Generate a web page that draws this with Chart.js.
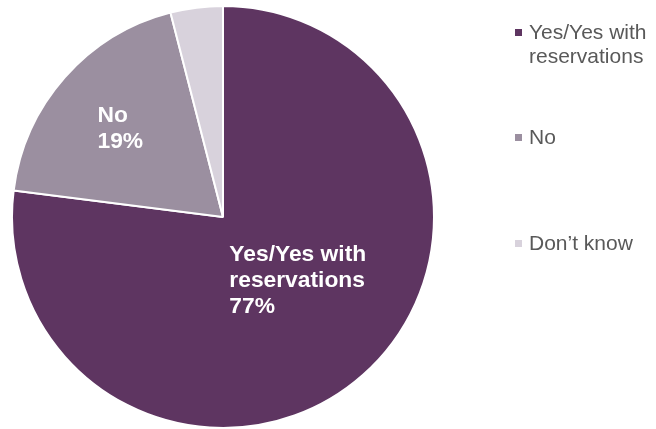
<!DOCTYPE html>
<html>
<head>
<meta charset="utf-8">
<script src="https://cdn.jsdelivr.net/npm/chart.js@4/dist/chart.umd.min.js"></script>
<style>
  html, body { margin: 0; padding: 0; background: #ffffff; }
  #wrap { width: 656px; height: 429px; position: relative; }
</style>
</head>
<body>
<div id="wrap"><canvas id="chart" width="656" height="429"></canvas></div>
<script>
// Survey responses
const categories = ['Yes/Yes with reservations', 'No', "Don\u2019t know"];
const legendLines = [['Yes/Yes with', 'reservations'], ['No'], ['Don\u2019t know']];
const shares = [77, 19, 4];
const sliceColors = ['#5e3561', '#9b8fa0', '#d8d2dc'];

const FONT = '"Liberation Sans", Arial, Helvetica, sans-serif';

// White in-slice labels (category + percentage)
const sliceLabels = [
  { lines: ['Yes/Yes with', 'reservations', shares[0] + '%'], fx: 0.03, fy: 0.135 },
  { lines: ['No', shares[1] + '%'], fx: -0.595, fy: -0.525 },
  null
];

const sliceLabelPlugin = {
  id: 'sliceLabels',
  afterDatasetsDraw(chart) {
    const ctx = chart.ctx;
    const meta = chart.getDatasetMeta(0);
    ctx.save();
    ctx.fillStyle = '#ffffff';
    ctx.font = 'bold 22.8px ' + FONT;
    ctx.textAlign = 'left';
    ctx.textBaseline = 'alphabetic';
    meta.data.forEach((arc, i) => {
      const spec = sliceLabels[i];
      if (!spec) return;
      const r = arc.outerRadius;
      const x = arc.x + spec.fx * r;
      const y = arc.y + spec.fy * r;
      spec.lines.forEach((line, k) => {
        ctx.fillText(line, x, y + 16 + k * 26);
      });
    });
    ctx.restore();
  }
};

// Legend drawn to the right of the pie
const sideLegendPlugin = {
  id: 'sideLegend',
  afterDraw(chart) {
    const ctx = chart.ctx;
    const x0 = chart.chartArea.right + 80;
    const baselines = [39, 144, 250];
    ctx.save();
    ctx.font = '21px ' + FONT;
    ctx.textAlign = 'left';
    ctx.textBaseline = 'alphabetic';
    legendLines.forEach((lines, i) => {
      const b = baselines[i];
      ctx.fillStyle = sliceColors[i];
      ctx.fillRect(x0, b - 10, 7, 7);
      ctx.fillStyle = '#595959';
      lines.forEach((line, k) => {
        ctx.fillText(line, x0 + 14, b + k * 24);
      });
    });
    ctx.restore();
  }
};

new Chart(document.getElementById('chart'), {
  type: 'pie',
  data: {
    labels: categories,
    datasets: [{
      data: shares,
      backgroundColor: sliceColors,
      borderColor: '#ffffff',
      borderWidth: 2
    }]
  },
  options: {
    responsive: false,
    animation: false,
    layout: { padding: { left: 11, top: 5, right: 221, bottom: 0 } },
    plugins: {
      legend: { display: false },
      tooltip: { enabled: false }
    }
  },
  plugins: [sliceLabelPlugin, sideLegendPlugin]
});
</script>
</body>
</html>
